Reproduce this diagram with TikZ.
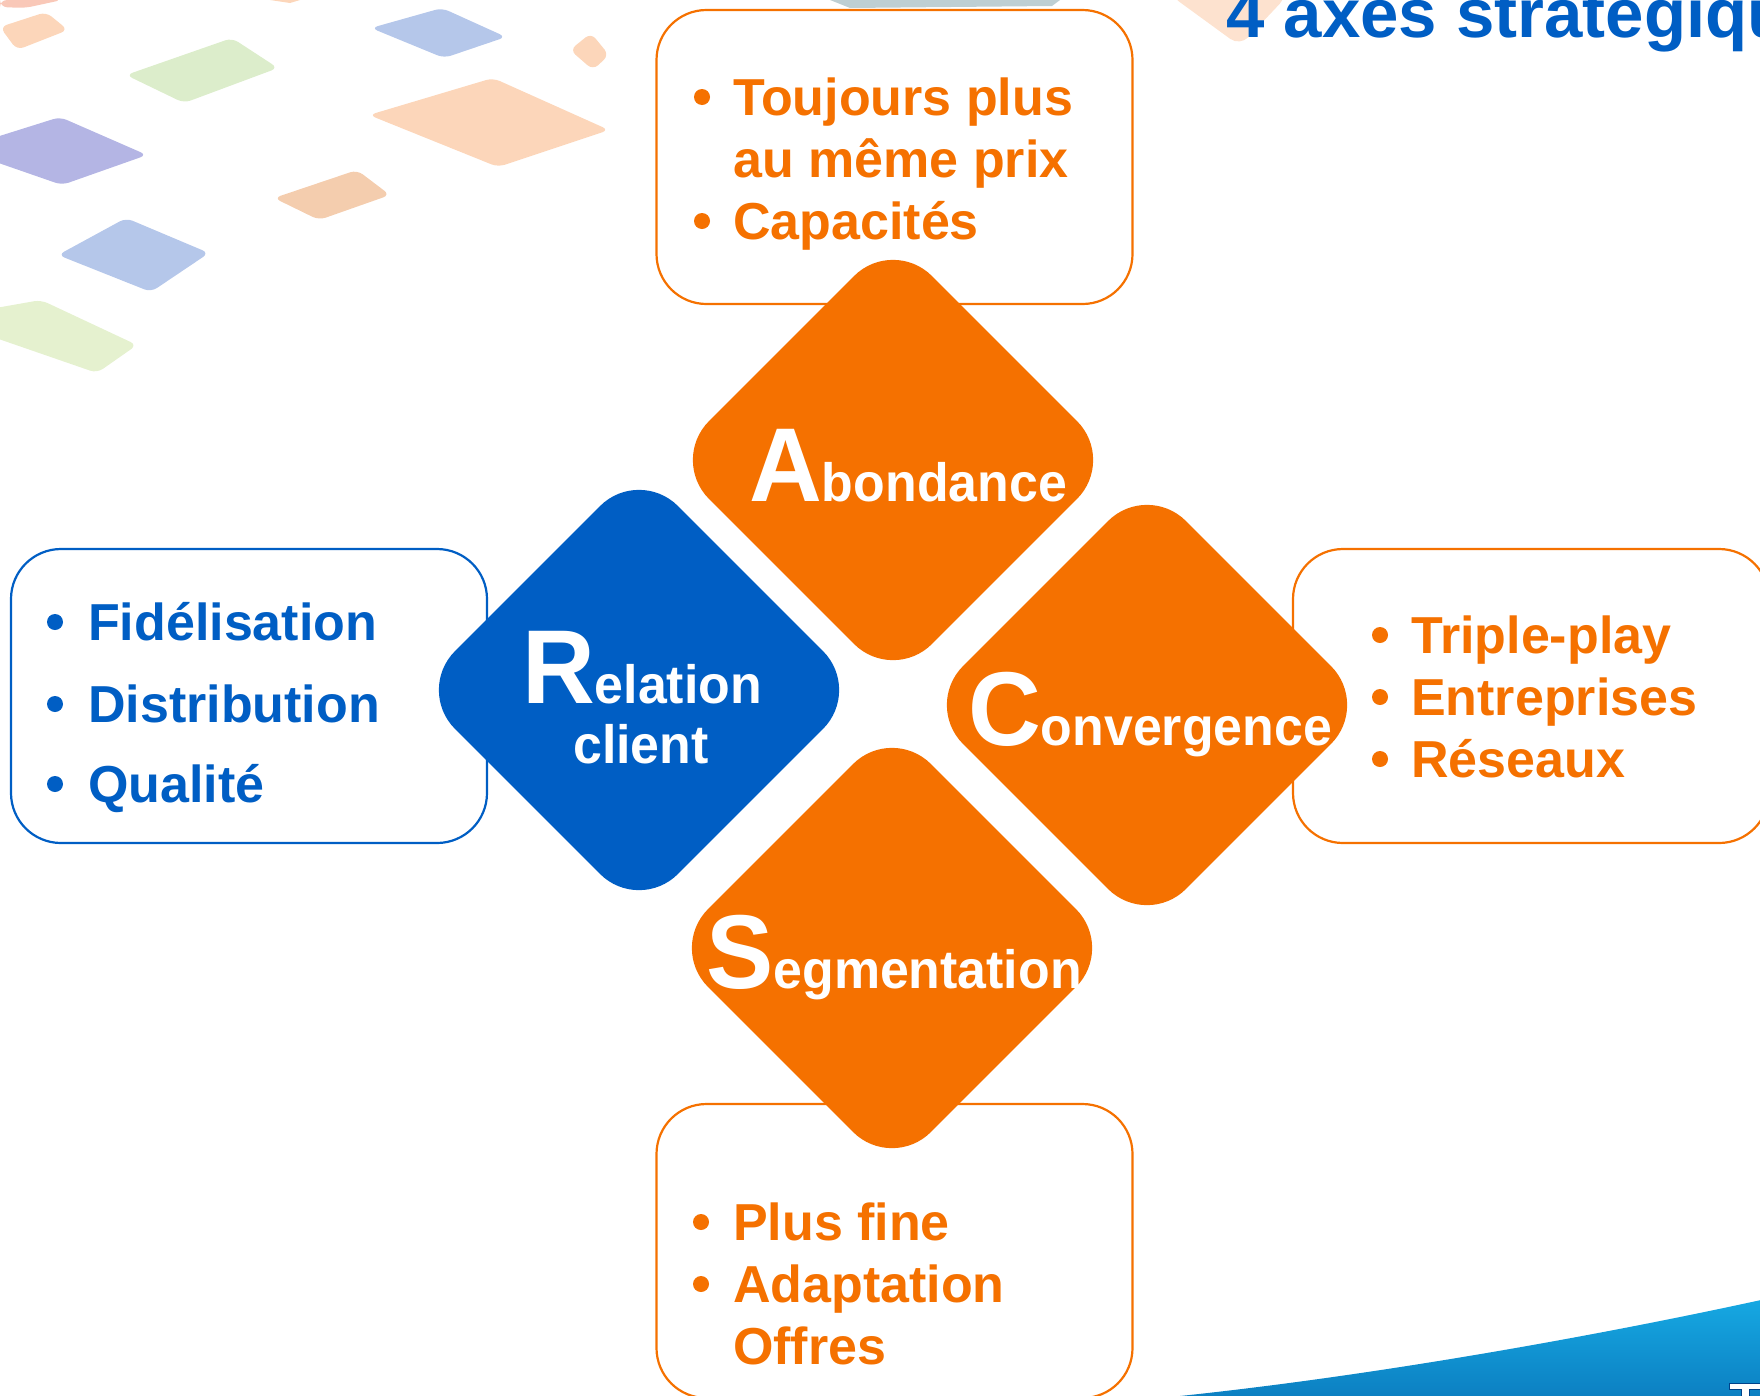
\documentclass[tikz,border=0pt]{standalone}
\usepackage{fontspec}
\setmainfont{Liberation Sans}
\newfontfamily\dfont[FakeStretch=0.96]{Liberation Sans}
\usetikzlibrary{shapes.geometric}
\definecolor{orangeC}{RGB}{245,113,0}
\definecolor{blueC}{RGB}{0,94,196}
\definecolor{bgpink}{RGB}{249,200,184}
\definecolor{bgorange}{RGB}{252,214,186}
\definecolor{bggreen}{RGB}{220,237,203}
\definecolor{bgblue}{RGB}{181,199,234}
\definecolor{bgperi}{RGB}{180,181,228}
\definecolor{bgtan}{RGB}{244,205,174}
\definecolor{bglime}{RGB}{229,241,207}
\definecolor{bggray}{RGB}{190,207,211}
\definecolor{swtop}{RGB}{22,168,226}
\definecolor{swbot}{RGB}{12,128,194}
\newcommand\myfs[1]{\fontsize{#1}{#1}\selectfont}
\begin{document}
\begin{tikzpicture}[x=1pt,y=-1pt,
  boxframe/.style={draw, line width=2.2pt, rounded corners=50pt, minimum width=476pt, minimum height=294pt, inner sep=0pt, fill=white},
  dia/.style={diamond, minimum size=446pt, inner sep=0pt, rounded corners=55pt},
  dtxt/.style={anchor=base, inner sep=0pt, text=white, font=\dfont\bfseries},
  btxt/.style={anchor=base west, inner sep=0pt, font=\bfseries\myfs{52}},
  bgshape/.style={rounded corners=7pt}]
\useasboundingbox (0,0) rectangle (1760,1395);
\clip (0,0) rectangle (1760,1395);

% background decorations
\fill[bgpink, bgshape] (0,0) -- (62,0) -- (25,8) -- (0,7) -- cycle;
\fill[bgorange, bgshape] (0,27) -- (46,12) -- (68,30) -- (17,50) -- cycle;
\fill[bggreen, bgshape] (126,75) -- (232,38) -- (278,68) -- (184,103) -- cycle;
\fill[bgblue, bgshape] (371,28) -- (442,8) -- (506,37) -- (444,58) -- cycle;
\fill[bgorange, bgshape] (570,50) -- (591,33) -- (609,55) -- (593,70) -- cycle;
\fill[bgorange, bgshape] (369,115) -- (493,78) -- (609,130) -- (498,167) -- cycle;
\fill[bgperi, bgshape] (-10,139) -- (60,117) -- (147,155) -- (62,185) -- (-10,160) -- cycle;
\fill[bgtan, bgshape] (274,198) -- (357,170) -- (390,195) -- (319,220) -- cycle;
\fill[bgblue, bgshape] (58,255) -- (126,218) -- (209,253) -- (151,292) -- cycle;
\fill[bglime, bgshape] (-10,309) -- (41,300) -- (137,345) -- (97,373) -- (-10,336) -- cycle;
\fill[bgorange] (270,0) -- (300,0) -- (290,3) -- cycle;
\fill[bggray] (830,0) -- (1060,0) -- (1052,6) -- (850,8) -- cycle;
\fill[bgorange, opacity=0.7, rounded corners=12pt] (1170,-5) -- (1288,-5) -- (1240,46) -- cycle;

% bottom-right swoosh
\shade[top color=swtop, bottom color=swbot] (1180,1396) .. controls (1380,1375) and (1600,1335) .. (1761,1300) -- (1761,1396) -- cycle;
\fill[white, draw=blueC!70!black, line width=1pt] (1729,1383) -- (1762,1383) -- (1762,1389) -- (1749,1389) -- (1749,1397) -- (1741,1397) -- (1741,1389) -- (1729,1389) -- cycle;

% boxes
\node[boxframe, draw=orangeC] (bA) at (894.5,157) {};
\node[boxframe, draw=blueC] (bR) at (249,696) {};
\node[boxframe, draw=orangeC] (bC) at (1531,696) {};
\node[boxframe, draw=orangeC] (bS) at (894.5,1251) {};

% diamonds
\node[dia, fill=orangeC] (dA) at (893,460) {};
\node[dia, fill=blueC] (dR) at (639,690) {};
\node[dia, fill=orangeC] (dC) at (1147,705) {};
\node[dia, fill=orangeC] (dS) at (892,948) {};

% diamond labels
\node[dtxt] (tA) at (908,501) {{\myfs{105}A}{\myfs{54}bondance}};
\node[dtxt] (tR1) at (642,703) {{\myfs{105}R}{\myfs{54}elation}};
\node[dtxt] (tR2) at (641,763) {{\myfs{54}client}};
\node[dtxt] (tC) at (1150,745) {{\myfs{105}C}{\myfs{54}onvergence}};
\node[dtxt] (tS) at (894,988) {{\myfs{105}S}{\myfs{54}egmentation}};

% top box text
\fill[orangeC] (702,97) circle (8);
\fill[orangeC] (702,221) circle (8);
\node[btxt, text=orangeC] (a1) at (733,115) {Toujours plus};
\node[btxt, text=orangeC] (a2) at (733,177) {au même prix};
\node[btxt, text=orangeC] (a3) at (733,239) {Capacités};

% left box text
\fill[blueC] (55,622) circle (8);
\fill[blueC] (55,704) circle (8);
\fill[blueC] (55,784) circle (8);
\node[btxt, text=blueC] (r1) at (88,640) {Fidélisation};
\node[btxt, text=blueC] (r2) at (88,722) {Distribution};
\node[btxt, text=blueC] (r3) at (88,802) {Qualité};

% right box text
\fill[orangeC] (1380,635) circle (8);
\fill[orangeC] (1380,697) circle (8);
\fill[orangeC] (1380,759) circle (8);
\node[btxt, text=orangeC] (c1) at (1411,653) {Triple-play};
\node[btxt, text=orangeC] (c2) at (1411,715) {Entreprises};
\node[btxt, text=orangeC] (c3) at (1411,777) {Réseaux};

% bottom box text
\fill[orangeC] (701,1222) circle (8);
\fill[orangeC] (701,1284) circle (8);
\node[btxt, text=orangeC] (s1) at (733,1240) {Plus fine};
\node[btxt, text=orangeC] (s2) at (733,1302) {Adaptation};
\node[btxt, text=orangeC] (s3) at (733,1364) {Offres};

% title
\node[anchor=base west, inner sep=0pt, text=blueC, font=\bfseries\myfs{69}] (title) at (1226,37) {4 axes stratégiques};
\end{tikzpicture}
\end{document}
